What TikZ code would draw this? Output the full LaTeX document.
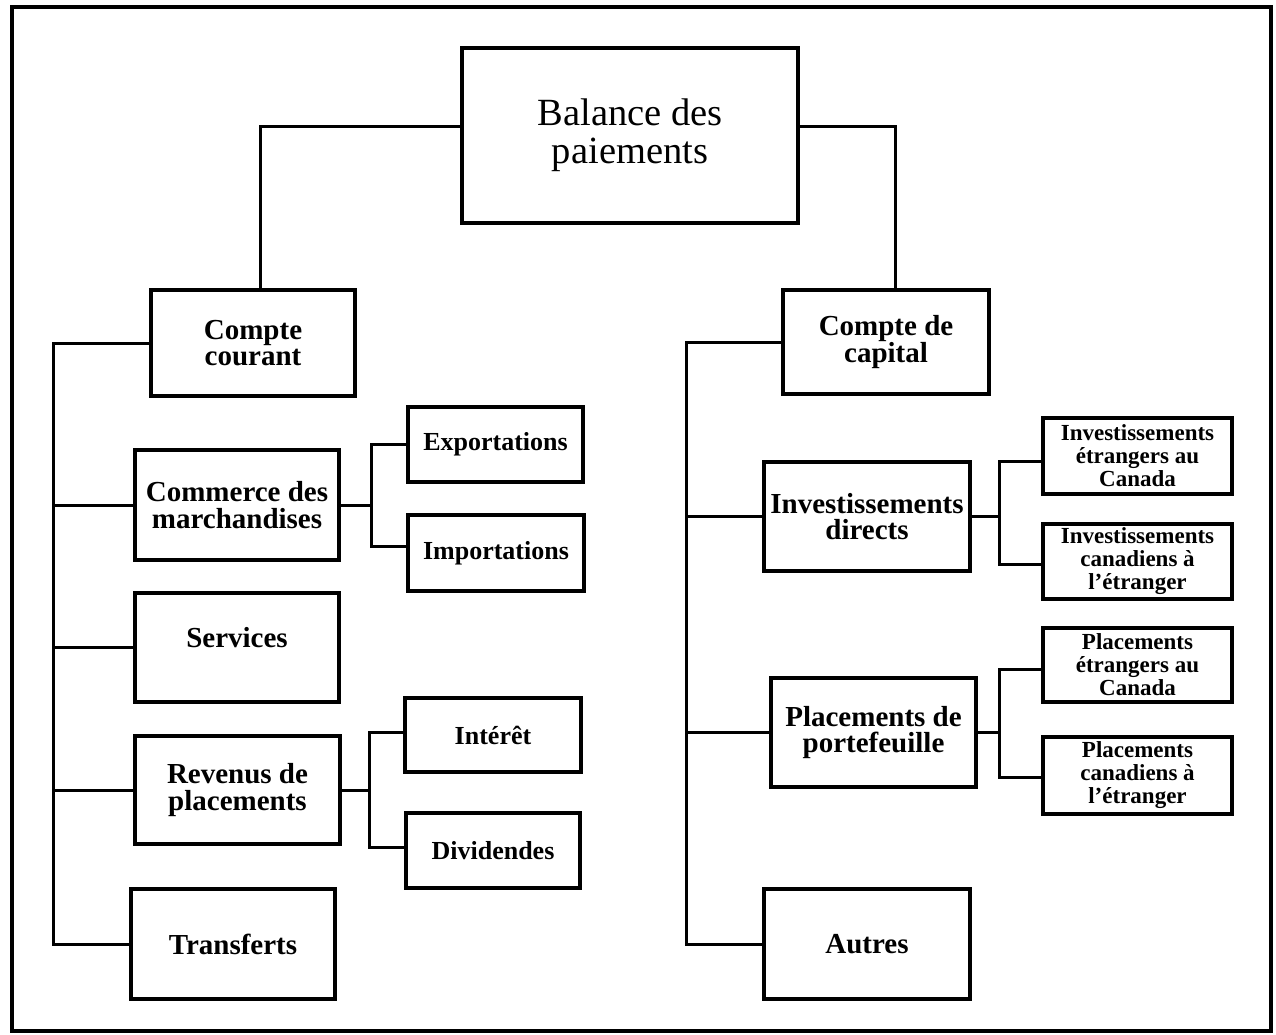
\documentclass[tikz,border=0pt]{standalone}
\usepackage{fontspec}
\setmainfont{Liberation Serif}
\begin{document}
\begin{tikzpicture}[x=1pt,y=-1pt,
  box/.style={draw=black, line width=3.4pt, fill=white, inner sep=0pt, align=center, text=black},
  bigtxt/.style={font=\fontsize{38.5}{38}\selectfont},
  midtxt/.style={font=\bfseries\fontsize{29}{26.5}\selectfont},
  smalltxt/.style={font=\bfseries\fontsize{26}{25}\selectfont},
  tinytxt/.style={font=\bfseries\fontsize{23}{23}\selectfont},
  link/.style={draw=black, line width=3pt, line join=miter}
]
\useasboundingbox (0,0) rectangle (1276,1035);
\draw[line width=3.2pt] (12,7) rectangle (1271,1031);

% top
\node[box,bigtxt,minimum width=336pt,minimum height=175pt] (bal) at (630,135.5) {Balance des\\paiements};

% left side
\node[box,midtxt,minimum width=204pt,minimum height=106pt] (cc) at (253,343) {Compte\\courant};
\node[box,midtxt,minimum width=204pt,minimum height=110pt] (com) at (237,505) {Commerce des\\marchandises};
\node[box,smalltxt,minimum width=175pt,minimum height=75pt] (exp) at (495.5,444.5) {Exportations};
\node[box,smalltxt,minimum width=176pt,minimum height=76pt] (imp) at (496,553) {Importations};
\node[box,midtxt,minimum width=204pt,minimum height=109pt,text height=20pt,text depth=20pt] (serv) at (237,647.5) {Services};
\node[box,midtxt,minimum width=205pt,minimum height=108pt] (rev) at (237.5,790) {Revenus de\\placements};
\node[box,smalltxt,minimum width=176pt,minimum height=74pt] (int) at (493,735) {Intérêt};
\node[box,smalltxt,minimum width=174pt,minimum height=75pt] (div) at (493,850.5) {Dividendes};
\node[box,midtxt,minimum width=204pt,minimum height=110pt] (tra) at (233,944) {Transferts};

% right side
\node[box,midtxt,minimum width=206pt,minimum height=104pt] (cap) at (886,342) {Compte de\\capital};
\node[box,midtxt,minimum width=206pt,minimum height=109pt] (idir) at (867,516.5) {Investissements\\directs};
\node[box,tinytxt,minimum width=189pt,minimum height=76pt] (iet) at (1137.5,456) {Investissements\\étrangers au\\Canada};
\node[box,tinytxt,minimum width=189pt,minimum height=75pt] (ica) at (1137.5,561.5) {Investissements\\canadiens à\\l'étranger};
\node[box,midtxt,minimum width=205pt,minimum height=109pt] (pport) at (873.5,732.5) {Placements de\\portefeuille};
\node[box,tinytxt,minimum width=189pt,minimum height=74pt] (pet) at (1137.5,665) {Placements\\étrangers au\\Canada};
\node[box,tinytxt,minimum width=189pt,minimum height=77pt] (pca) at (1137.5,775.5) {Placements\\canadiens à\\l'étranger};
\node[box,midtxt,minimum width=206pt,minimum height=110pt] (aut) at (867,944) {Autres};

% helper coordinates
\coordinate (ltop) at (53,343);
\coordinate (lbot) at (53,944);
\coordinate (rtop) at (686,342);
\coordinate (rbot) at (686,944);
\coordinate (cf) at (371,505);
\coordinate (rf) at (369,790);
\coordinate (df) at (999,516.5);
\coordinate (pf) at (999,732.5);

% top connectors
\draw[link] ([yshift=8.5pt]bal.west) -| ([xshift=7pt]cc.north);
\draw[link] ([yshift=8.5pt]bal.east) -| ([xshift=9pt]cap.north);

% left trunk
\draw[link] (cc.west) -- (ltop) -- (lbot) -- (tra.west);
\draw[link] (com.west) -- (com.west -| ltop);
\draw[link] (serv.west) -- (serv.west -| ltop);
\draw[link] (rev.west) -- (rev.west -| ltop);

% commerce fork
\draw[link] (com.east) -- (cf);
\draw[link] (exp.west) -| (cf) |- ([yshift=7pt]imp.west);

% revenus fork
\draw[link] (rev.east) -- (rf);
\draw[link] ([yshift=3pt]int.west) -| (rf) |- ([yshift=3pt]div.west);

% right trunk
\draw[link] (cap.west) -- (rtop) -- (rbot) -- (aut.west);
\draw[link] (idir.west) -- (idir.west -| rtop);
\draw[link] (pport.west) -- (pport.west -| rtop);

% investissements fork
\draw[link] (idir.east) -- (df);
\draw[link] ([yshift=-5pt]iet.west) -| (df) |- ([yshift=-3pt]ica.west);

% placements fork
\draw[link] (pport.east) -- (pf);
\draw[link] ([yshift=-4pt]pet.west) -| (pf) |- ([yshift=-2pt]pca.west);
\end{tikzpicture}
\end{document}
